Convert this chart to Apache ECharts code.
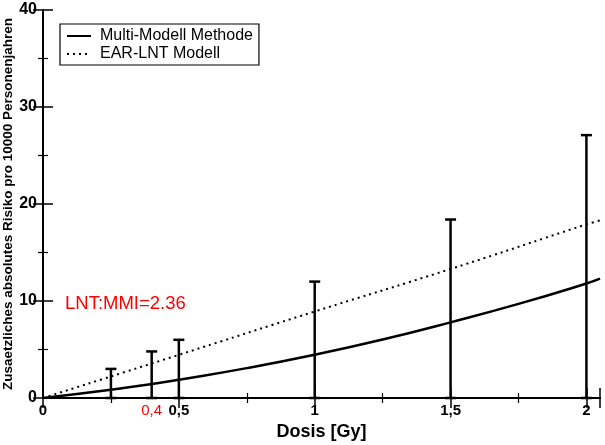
<!DOCTYPE html>
<html><head><meta charset="utf-8">
<script src="https://cdn.jsdelivr.net/npm/echarts@6/dist/echarts.min.js"></script>
<style>html,body{margin:0;padding:0;background:#fff}#c{width:605px;height:445px}</style>
</head><body><div id="c"></div>
<script>
// Multi-Modell Methode (solid curve)
const mmiX = [0, 0.25, 0.4, 0.5, 0.75, 1, 1.25, 1.5, 1.75, 2, 2.05];
const mmiY = [0, 0.85, 1.44, 1.88, 3.08, 4.46, 6.03, 7.8, 9.7, 11.8, 12.3];
// EAR-LNT Modell (dotted line)
const lntX = [0, 0.5, 1, 1.5, 2, 2.05];
const lntY = [0, 4.45, 8.92, 13.3, 17.9, 18.3];
// Error bars
const errX = [0.25, 0.4, 0.5, 1, 1.5, 2];
const errLow = [0, 0, 0, 0, 0, 0];
const errHigh = [3.0, 4.8, 6.0, 12.0, 18.4, 27.1];
// Axis labels
const xLabelValues = [0, 0.4, 0.5, 1, 1.5, 2];
const yTicks = [0, 10, 20, 30, 40];
const ratioText = 'LNT:MMI=2.36';

const FONT = 'Liberation Sans';
const chart = echarts.init(document.getElementById('c'), null, {renderer: 'canvas'});

const commonTick = {show: true, inside: true, length: 10, lineStyle: {color: '#000', width: 1.5}};
const commonMinor = {show: true, splitNumber: 2, length: 5, lineStyle: {color: '#000', width: 1.2}};
const axLine = {show: true, lineStyle: {color: '#000', width: 2}};

chart.setOption({
  animation: false,
  backgroundColor: '#fff',
  grid: {left: 43, right: 5, top: 10, bottom: 47, containLabel: false, outerBoundsMode: 'none'},
  legend: {
    orient: 'vertical', left: 60, top: 24,
    borderColor: '#000', borderWidth: 1.2, borderRadius: 0,
    padding: [4, 6, 3, 6], itemGap: 2, itemWidth: 24, itemHeight: 16,
    itemStyle: {opacity: 0},
    textStyle: {fontFamily: FONT, fontSize: 16, color: '#000', padding: [0, 0, 0, 4]},
    data: ['Multi-Modell Methode', 'EAR-LNT Modell']
  },
  xAxis: [{
    type: 'value', min: 0, max: 2.05, interval: 0.5, position: 'bottom',
    axisLine: axLine, axisTick: commonTick, minorTick: commonMinor,
    splitLine: {show: false},
    axisLabel: {
      customValues: xLabelValues,
      fontFamily: FONT, fontWeight: 'bold', fontSize: 15, color: '#000', margin: 5,
      formatter: function (v) {
        const s = String(Math.round(v * 10) / 10).replace('.', ',');
        return Math.abs(v - 0.4) < 1e-6 ? '{r|' + s + '}' : s;
      },
      rich: {r: {color: '#ff0000', fontFamily: FONT, fontWeight: 'normal', fontSize: 15}}
    },
    name: 'Dosis [Gy]', nameLocation: 'middle', nameGap: 25, nameMoveOverlap: false,
    nameTextStyle: {fontFamily: FONT, fontWeight: 'bold', fontSize: 18, color: '#000'}
  }, {
    type: 'value', min: 0, max: 2.05, interval: 0.5, position: 'top',
    axisLine: axLine, axisTick: commonTick, minorTick: commonMinor,
    splitLine: {show: false}, axisLabel: {show: false}
  }],
  yAxis: [{
    type: 'value', min: 0, max: 40, interval: 10, position: 'left',
    axisLine: axLine, axisTick: commonTick, minorTick: commonMinor,
    splitLine: {show: false},
    axisLabel: {fontFamily: FONT, fontWeight: 'bold', fontSize: 16, color: '#000', margin: 6},
    name: 'Zusaetzliches absolutes Risiko pro 10000 Personenjahren',
    nameLocation: 'middle', nameGap: 28, nameMoveOverlap: false,
    nameTextStyle: {fontFamily: FONT, fontWeight: 'bold', fontSize: 13.5, color: '#000'}
  }, {
    type: 'value', min: 0, max: 40, interval: 10, position: 'right',
    axisLine: axLine, axisTick: commonTick, minorTick: commonMinor,
    splitLine: {show: false}, axisLabel: {show: false}
  }],
  graphic: [{
    type: 'text', left: 65, top: 294,
    style: {text: ratioText, fontFamily: FONT, fontSize: 18.5, fill: '#ff0000'}
  }],
  series: [{
    name: 'Multi-Modell Methode', type: 'line', smooth: true, symbol: 'none',
    lineStyle: {color: '#000', width: 2.5},
    itemStyle: {color: '#000'},
    data: mmiX.map((x, i) => [x, mmiY[i]]), z: 3
  }, {
    name: 'EAR-LNT Modell', type: 'line', smooth: true, symbol: 'none',
    lineStyle: {color: '#000', width: 2, type: [2, 4]},
    itemStyle: {color: '#000'},
    data: lntX.map((x, i) => [x, lntY[i]]), z: 3
  }, {
    type: 'custom', name: 'err', z: 4,
    renderItem: function (params, api) {
      const x = api.value(0);
      const lo = api.coord([x, api.value(1)]);
      const hi = api.coord([x, api.value(2)]);
      const w = 5.5;
      const st = {stroke: '#000', lineWidth: 2.5};
      return {type: 'group', children: [
        {type: 'line', shape: {x1: lo[0], y1: lo[1], x2: hi[0], y2: hi[1]}, style: st},
        {type: 'line', shape: {x1: hi[0] - w, y1: hi[1], x2: hi[0] + w, y2: hi[1]}, style: st},
        {type: 'line', shape: {x1: lo[0] - w, y1: lo[1], x2: lo[0] + w, y2: lo[1]}, style: st}
      ]};
    },
    data: errX.map((x, i) => [x, errLow[i], errHigh[i]])
  }]
});
</script></body></html>
